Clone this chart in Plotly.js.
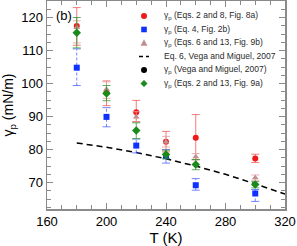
<!DOCTYPE html>
<html><head><meta charset="utf-8">
<script src="https://cdn.plot.ly/plotly-3.0.1.min.js"></script>
<style>html,body{margin:0;padding:0;background:#fff}#chart{width:297px;height:246px}</style>
</head><body><div id="chart"></div>
<script>
// Temperatures (K)
const temps = [180, 200, 220, 240, 260, 300];

// γp (Eqs. 2 and 8, Fig. 8a) - red circles
const redY  = [117.4, 97.3, 91.3, 82.4, 83.6, 77.3];
const redHi = [123.0, 100.8, 94.9, 85.5, 90.6, 78.6];
const redLo = [111.6, 93.3, 88.5, 79.3, 77.0, 76.1];

// γp (Eq. 4, Fig. 2b) - blue squares
const blueY  = [104.8, 89.9, 81.2, 78.0, 69.2, 66.7];
const blueHi = [110.5, 92.7, 83.2, 80.0, 71.2, 67.9];
const blueLo = [99.4, 86.9, 79.0, 75.9, 67.7, 64.3];

// γp (Eqs. 6 and 13, Fig. 9b) - rosy triangles
const pinkY  = [117.0, 98.3, 89.9, 82.3, 77.8, 71.5];
const pinkHi = [119.0, 100.5, 91.5, 84.0, 78.8, 72.3];
const pinkLo = [112.3, 95.5, 88.3, 80.8, 76.8, 70.7];

// γp (Vega and Miguel, 2007) - black circles
const blackT = [240, 260, 300];
const blackY = [78.4, 75.5, 69.3];

// γp (Eqs. 2 and 13, Fig. 9a) - green diamonds
const greenY  = [115.4, 97.0, 85.8, 78.5, 75.5, 69.4];
const greenHi = [120.0, 99.4, 88.1, 79.8, 77.0, 70.3];
const greenLo = [110.8, 94.8, 83.3, 77.2, 73.9, 68.4];

// Eq. 6, Vega and Miguel, 2007 - dashed curve
const curveT = [180, 200, 220, 240, 260, 280, 300, 320];
const curveY = [82.0, 80.7, 79.1, 77.2, 75.0, 72.5, 69.6, 66.5];

const legendLabels = [
  'γ<sub>p</sub> (Eqs. 2 and 8, Fig. 8a)',
  'γ<sub>p</sub> (Eq. 4, Fig. 2b)',
  'γ<sub>p</sub> (Eqs. 6 and 13, Fig. 9b)',
  'Eq. 6, Vega and Miguel, 2007',
  'γ<sub>p</sub> (Vega and Miguel, 2007)',
  'γ<sub>p</sub> (Eqs. 2 and 13, Fig. 9a)'
];

const FONT = 'Liberation Sans, Arial, sans-serif';
const up = (y, hi) => hi.map((h, i) => +(h - y[i]).toFixed(3));
const dn = (y, lo) => lo.map((l, i) => +(y[i] - l).toFixed(3));

function errTrace(y, hi, lo, color, mcolor, symbol, size, name) {
  return {
    x: temps, y: y, type: 'scatter', mode: 'markers', name: name, showlegend: false,
    marker: {color: mcolor, size: size, symbol: symbol},
    error_y: {type: 'data', symmetric: false, array: up(y, hi), arrayminus: dn(y, lo),
              color: color, thickness: 1, width: 4}
  };
}

// blue dashed stems and solid caps, built from the arrays
const bStemX = [], bStemY = [], bCapX = [], bCapY = [];
temps.forEach((t, i) => {
  bStemX.push(t, t, null); bStemY.push(blueLo[i], blueHi[i], null);
  [blueLo[i], blueHi[i]].forEach(v => { bCapX.push(t - 2.7, t + 2.7, null); bCapY.push(v, v, null); });
});

const traces = [
  {x: curveT, y: curveY, type: 'scatter', mode: 'lines', showlegend: false,
   line: {color: '#000', width: 1.5, dash: '6px,4px'}},
  {x: bStemX, y: bStemY, type: 'scatter', mode: 'lines', showlegend: false, hoverinfo: 'skip',
   line: {color: 'rgba(70,90,255,0.75)', width: 1, dash: '3px,2px'}},
  {x: bCapX, y: bCapY, type: 'scatter', mode: 'lines', showlegend: false, hoverinfo: 'skip',
   line: {color: 'rgba(70,90,255,0.75)', width: 1}},
  {x: temps, y: blueY, type: 'scatter', mode: 'markers', showlegend: false,
   marker: {color: '#1030ff', size: 6, symbol: 'square'}},
  errTrace(redY, redHi, redLo, 'rgba(240,70,70,0.7)', '#f01818', 'circle', 6, 'red'),
  errTrace(pinkY, pinkHi, pinkLo, 'rgba(225,160,160,0.8)', '#c09090', 'triangle-up', 6, 'pink'),
  {x: blackT, y: blackY, type: 'scatter', mode: 'markers', showlegend: false,
   marker: {color: '#000', size: 4, symbol: 'circle'}},
  errTrace(greenY, greenHi, greenLo, 'rgba(40,150,40,0.75)', '#1a8a1a', 'diamond', 6.5, 'green')
];

// manual legend (compact spacing)
const legX = 0.4076, legTextX = 0.483, legY0 = 0.928, legStep = 0.0649;
const shapes = [];
const annotations = [];
const symColors = ['#f01818', '#1030ff', '#c09090', '#000', '#000', '#1a8a1a'];
legendLabels.forEach((lab, i) => {
  const y = legY0 - i * legStep;
  annotations.push({xref: 'paper', yref: 'paper', x: legTextX, y: y, xanchor: 'left', yanchor: 'middle',
    text: lab, showarrow: false, font: {family: FONT, size: 8.5, color: '#2a2a2a'}});
  const base = {xref: 'paper', yref: 'paper', xsizemode: 'pixel', ysizemode: 'pixel',
    xanchor: legX, yanchor: y, fillcolor: symColors[i], line: {width: 0}};
  if (i === 0 || i === 4) shapes.push(Object.assign({type: 'circle', x0: -3, x1: 3, y0: -3, y1: 3}, base));
  else if (i === 1) shapes.push(Object.assign({type: 'rect', x0: -2.8, x1: 2.8, y0: -2.8, y1: 2.8}, base));
  else if (i === 2) shapes.push(Object.assign({type: 'path', path: 'M-3.5,-2.8L3.5,-2.8L0,3.6Z'}, base));
  else if (i === 5) shapes.push(Object.assign({type: 'path', path: 'M0,-3.5L3.5,0L0,3.5L-3.5,0Z'}, base));
  else shapes.push(Object.assign({}, base, {type: 'line', x0: -5, x1: 5, y0: 0, y1: 0,
    line: {color: '#000', width: 1.5, dash: '4px,3px'}}));
});
annotations.push({xref: 'paper', yref: 'paper', x: 0.03, y: 0.93, xanchor: 'left', yanchor: 'middle',
  text: '(b)', showarrow: false, font: {family: FONT, size: 13, color: '#000'}});

const axisCommon = {
  showline: true, linecolor: '#8a8a8a', linewidth: 1.5, mirror: 'ticks',
  ticks: 'inside', ticklen: 6, tickwidth: 1, tickcolor: '#8a8a8a',
  showgrid: false, zeroline: false,
  tickfont: {family: FONT, size: 13, color: '#000'}
};

const layout = {
  width: 297, height: 246,
  margin: {l: 47, r: 12, t: 1, b: 37},
  paper_bgcolor: '#fff', plot_bgcolor: '#fff',
  showlegend: false,
  xaxis: Object.assign({}, axisCommon, {
    range: [160, 320], tickmode: 'linear', tick0: 160, dtick: 40,
    minor: {dtick: 10, ticks: 'inside', ticklen: 4, tickcolor: '#8a8a8a', tickwidth: 1},
    title: {text: 'T (K)', font: {family: FONT, size: 15, color: '#000'}, standoff: 6}
  }),
  yaxis: Object.assign({}, axisCommon, {
    range: [62, 125], tickmode: 'linear', tick0: 70, dtick: 10,
    minor: {dtick: 2.5, tick0: 70, ticks: 'inside', ticklen: 4, tickcolor: '#8a8a8a', tickwidth: 1},
    title: {text: 'γ<sub>p</sub> (mN/m)', font: {family: FONT, size: 14, color: '#000'}, standoff: 4}
  }),
  shapes: shapes,
  annotations: annotations
};

Plotly.newPlot('chart', traces, layout, {staticPlot: true, displayModeBar: false});
</script>
</body></html>
